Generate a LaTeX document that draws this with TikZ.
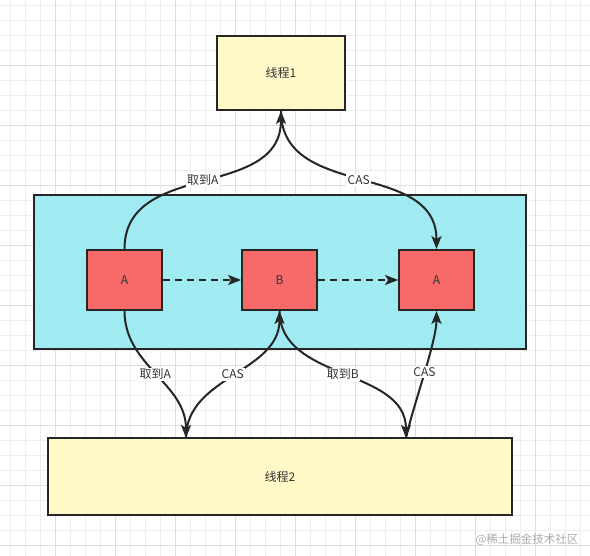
\documentclass[tikz,border=0pt]{standalone}
\usepackage{fontspec}
\setmainfont{Noto Sans CJK SC}
\usetikzlibrary{arrows.meta}
\definecolor{gminor}{HTML}{EDEDED}
\definecolor{gmajor}{HTML}{DEDEDE}
\definecolor{yel}{HTML}{FFF9C8}
\definecolor{cya}{HTML}{A0EAF2}
\definecolor{redb}{HTML}{F76A6A}
\definecolor{ink}{HTML}{262626}
\definecolor{txt}{HTML}{333333}
\tikzset{
  box/.style={draw=ink, line width=1.8pt, inner sep=0pt, font=\fontsize{12}{14}\selectfont, text=txt},
  ybox/.style={box, fill=yel},
  rbox/.style={box, fill=redb, minimum width=75pt, minimum height=60pt},
  conn/.style={draw=ink, line width=2pt, -{Stealth[length=13pt,width=10pt,inset=3pt]}},
  dconn/.style={conn, dash pattern=on 7pt off 5pt},
  lbl/.style={fill=white, inner sep=1.5pt, font=\fontsize{12}{14}\selectfont, text=txt}
}
\begin{document}
\begin{tikzpicture}[x=1pt,y=-1pt]
\useasboundingbox (0,0) rectangle (590,556);
\fill[white] (0,0) rectangle (590,556);
\foreach \x in {10,25,...,590} \draw[gminor, line width=0.8pt] (\x,0) -- (\x,556);
\foreach \y in {5,20,...,556} \draw[gminor, line width=0.8pt] (0,\y) -- (590,\y);
\foreach \x in {55,115,...,590} \draw[gmajor, line width=0.9pt] (\x,0) -- (\x,556);
\foreach \y in {65,125,...,556} \draw[gmajor, line width=0.9pt] (0,\y) -- (590,\y);

\node[ybox, minimum width=128pt, minimum height=74pt] (t1) at (281,73) {线程1};
\node[box, fill=cya, minimum width=492pt, minimum height=154pt] (mem) at (280,272) {};
\node[rbox] (a1) at (124.5,280) {A};
\node[rbox] (b) at (279.5,280) {B};
\node[rbox] (a2) at (436.5,280) {A};
\node[ybox, minimum width=464pt, minimum height=77pt] (t2) at (280,476.5) {线程2};
\coordinate (t2a) at (186,438);
\coordinate (t2b) at (406,438);

\draw[dconn] (a1.east) -- (b.west);
\draw[dconn] (b.east) -- (a2.west);

\draw[conn] (a1.north) to[out=90,in=-90,looseness=1.1] node[lbl] {取到A} (t1.south);
\draw[conn] (t1.south) to[out=-90,in=90,looseness=1.1] node[lbl] {CAS} (a2.north);
\draw[conn] (a1.south) to[out=-90,in=90,looseness=1.0] node[lbl] {取到A} (t2a);
\draw[conn] (t2a) to[out=90,in=-90,looseness=1.0] node[lbl] {CAS} (b.south);
\draw[conn] (b.south) to[out=-90,in=90,looseness=1.0] node[lbl] {取到B} (t2b);
\draw[conn] (t2b) to[out=78,in=-90,looseness=0.6] node[lbl, pos=0.52] {CAS} (a2.south);

\node[text=gray!65, font=\fontsize{11.5}{13}\selectfont, anchor=east] (wm) at (582,540) {@稀土掘金技术社区};
\end{tikzpicture}
\end{document}
